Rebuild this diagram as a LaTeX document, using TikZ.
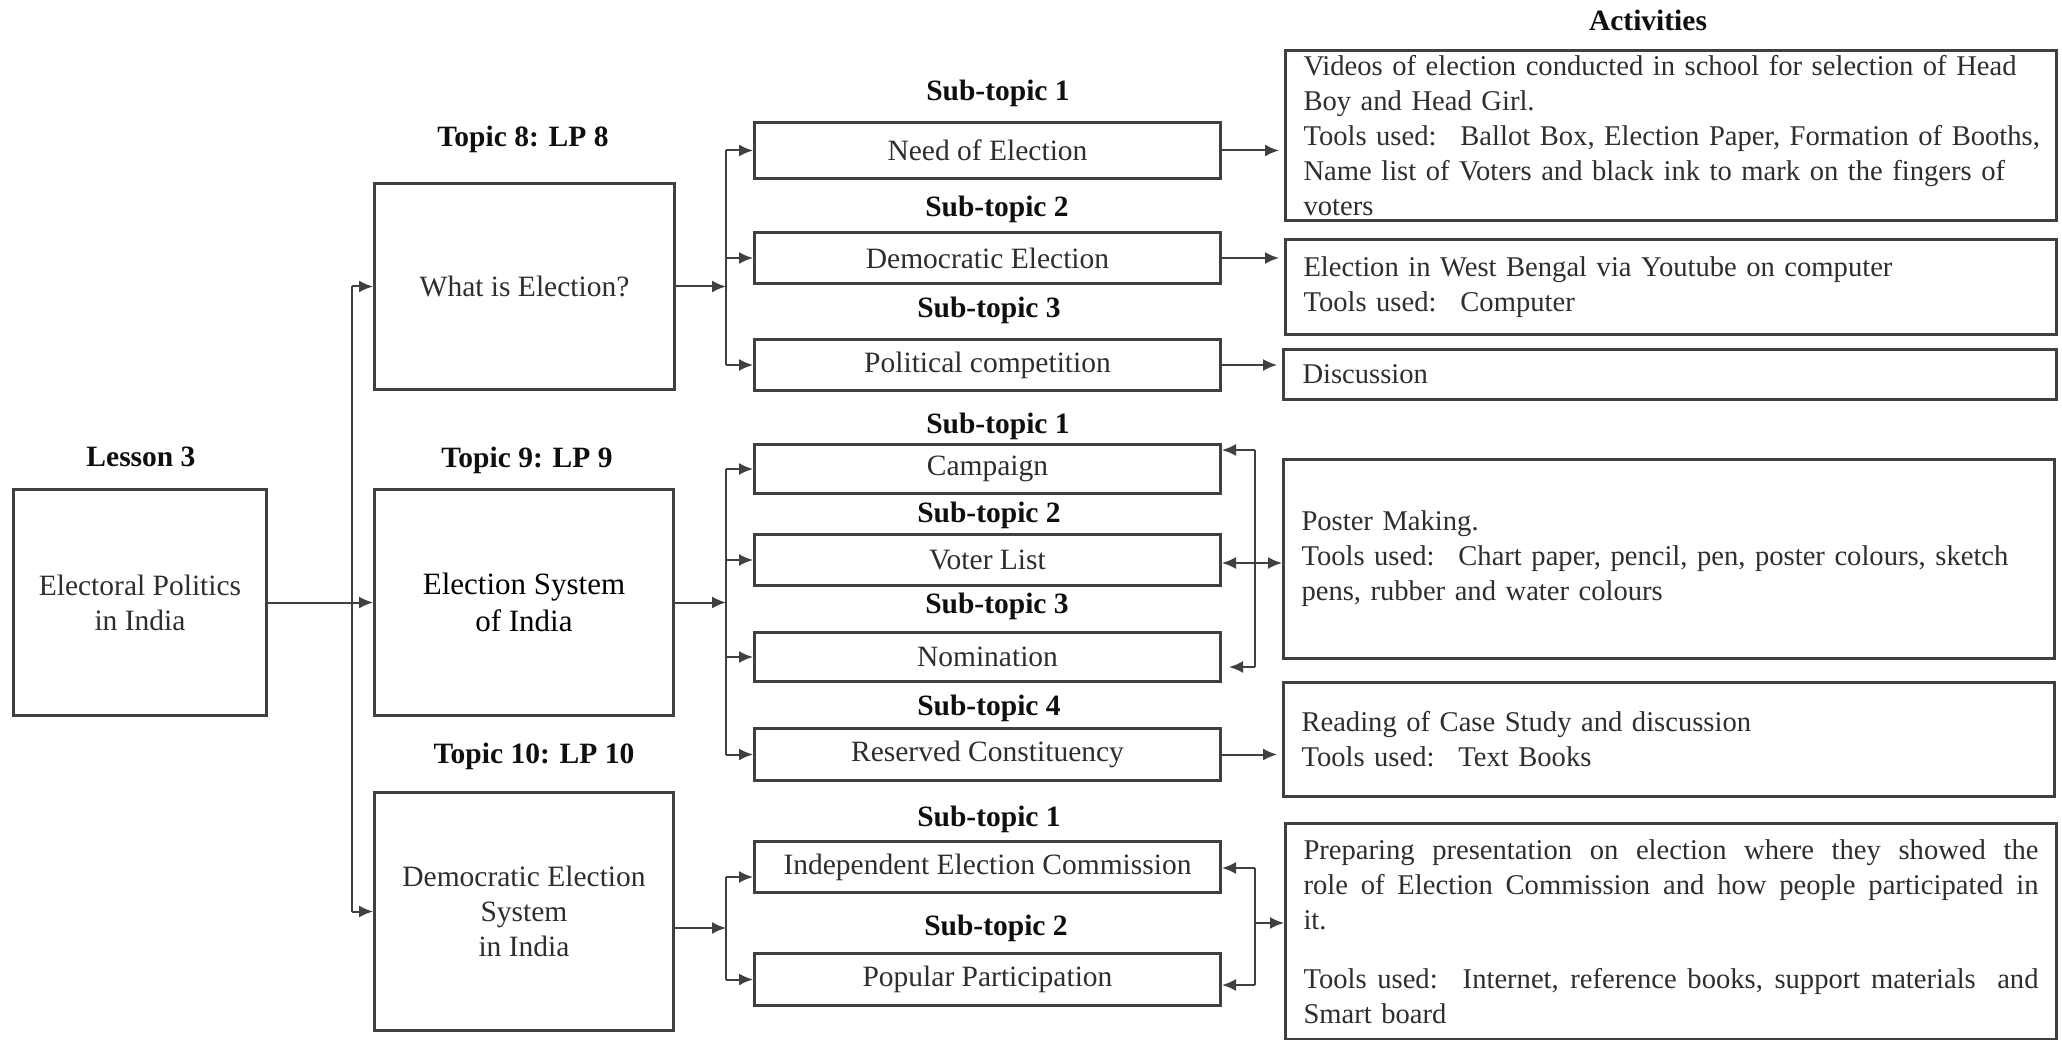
\documentclass[tikz,border=0pt]{standalone}
\usepackage{fontspec}
\setmainfont{Liberation Serif}
\usetikzlibrary{arrows.meta}
\definecolor{linec}{gray}{0.25}
\definecolor{txtc}{gray}{0.18}
\definecolor{lblc}{gray}{0.06}
\newcommand\bodyfont{\fontsize{29.5}{35}\selectfont}
\newcommand\actfont{\fontsize{28.6}{35}\selectfont}
\newcommand\jline[1]{\leavevmode\hbox to 735pt{\spaceskip=0.25em plus 1fil\relax #1}}
\tikzset{
  box/.style={draw=linec, line width=3pt, inner sep=0pt, text=txtc, font=\bodyfont, align=center},
  rect/.style n args={4}{anchor=north west, at={(#1,#2)}, minimum width={(#3)-(#1)}, minimum height={(#4)-(#2)}},
  actbox/.style={box, font=\actfont, text width=735pt, align=left},
  lbl/.style={font=\bodyfont\bfseries, text=lblc, inner sep=0pt},
  conn/.style={draw=linec, line width=2pt},
  arr/.style={conn, -{Latex[length=14pt,width=12pt]}},
  darr/.style={conn, {Latex[length=14pt,width=12pt]}-{Latex[length=14pt,width=12pt]}},
}
\begin{document}
\begin{tikzpicture}[x=1pt,y=-1pt]
\useasboundingbox (0,0) rectangle (2062,1040);
\fill[white] (0,0) rectangle (2062,1040);

% headings
\node[lbl] (hact) at (1648,20) {Activities};
\node[lbl] (hl3) at (141,457) {Lesson 3};
\node[lbl] (ht8) at (523,139) {Topic 8: LP 8};
\node[lbl] (ht9) at (527,460) {Topic 9: LP 9};
\node[lbl] (ht10) at (534,756) {Topic 10: LP 10};
\node[lbl] (s1) at (998,93) {Sub-topic 1};
\node[lbl] (s2) at (997,209) {Sub-topic 2};
\node[lbl] (s3) at (989,310) {Sub-topic 3};
\node[lbl] (s4) at (998,426) {Sub-topic 1};
\node[lbl] (s5) at (989,515) {Sub-topic 2};
\node[lbl] (s6) at (997,606) {Sub-topic 3};
\node[lbl] (s7) at (989,708) {Sub-topic 4};
\node[lbl] (s8) at (989,819) {Sub-topic 1};
\node[lbl] (s9) at (996,928) {Sub-topic 2};

% lesson and topics
\node[box, rect={12}{488}{265}{714}] (L3) {Electoral Politics\\in India};
\node[box, rect={373}{182}{673}{388}] (T8) {What is Election?};
\node[box, rect={373}{488}{672}{714}, text=black, font=\fontsize{31}{37.5}\selectfont] (T9) {Election System\\of India};
\node[box, rect={373}{791}{672}{1029}] (T10) {Democratic Election\\System\\in India};

% sub-topics
\node[box, rect={753}{121}{1219}{177}] (Need) {Need of Election};
\node[box, rect={753}{231}{1219}{282}] (Dem) {Democratic Election};
\node[box, rect={753}{338}{1219}{389}] (Pol) {Political competition};
\node[box, rect={753}{443}{1219}{492}] (Camp) {Campaign};
\node[box, rect={753}{533}{1219}{584}] (Voter) {Voter List};
\node[box, rect={753}{631}{1219}{680}] (Nom) {Nomination};
\node[box, rect={753}{727}{1219}{779}] (Res) {Reserved Constituency};
\node[box, rect={753}{840}{1219}{891}] (Ind) {Independent Election Commission};
\node[box, rect={753}{952}{1219}{1004}] (Pop) {Popular Participation};

% activities
\node[actbox, rect={1284}{49}{2055}{219}] (A1) {\mbox{Videos of election conducted in school for selection of Head}\\
\mbox{Boy and Head Girl.}\\
\mbox{Tools used:~ Ballot Box, Election Paper, Formation of Booths,}\\
\mbox{Name list of Voters and black ink to mark on the fingers of}\\
\mbox{voters}};
\node[actbox, rect={1284}{238}{2055}{333}] (A2) {\mbox{Election in West Bengal via Youtube on computer}\\
\mbox{Tools used:~ Computer}};
\node[actbox, rect={1282}{348}{2055}{398}] (A3) {Discussion};
\node[actbox, rect={1282}{458}{2053}{657}] (A4) {\mbox{Poster Making.}\\
\mbox{Tools used:~ Chart paper, pencil, pen, poster colours, sketch}\\
\mbox{pens, rubber and water colours}};
\node[actbox, rect={1282}{681}{2053}{795}] (A5) {\mbox{Reading of Case Study and discussion}\\
\mbox{Tools used:~ Text Books}};
\node[actbox, rect={1284}{822}{2055}{1038}] (A6) {\jline{Preparing presentation on election where they showed the}\\
\jline{role of Election Commission and how people participated in}\\
\mbox{it.}\\[24pt]
\jline{Tools used:~ Internet, reference books, support materials~ and}\\
\mbox{Smart board}};

% junction coordinates
\coordinate (j1) at (352,0);
\coordinate (j2) at (726,0);
\coordinate (k) at (1255,0);
\coordinate (y10) at (0,928);
\coordinate (yInd) at (0,877);
\coordinate (rCamp) at (0,450);
\coordinate (rVoter) at (0,563);
\coordinate (rNom) at (0,667);
\coordinate (rNomTip) at (1229,667);
\coordinate (rInd) at (0,868);
\coordinate (rPop) at (0,985);
\coordinate (rA6) at (0,923);

% lesson -> topics
\draw[arr] (L3.east) -- (T9.west);
\draw[conn] (j1 |- T8.west) -- (j1 |- T10.west);
\draw[arr] (j1 |- T8.west) -- (T8.west);
\draw[arr] (j1 |- T10.west) -- (T10.west);

% topic 8 -> subtopics
\draw[arr] (T8.east) -- (T8.east -| j2);
\draw[conn] (j2 |- Need.west) -- (j2 |- Pol.west);
\foreach \n in {Need,Dem,Pol} \draw[arr] (j2 |- \n.west) -- (\n.west);

% topic 9 -> subtopics
\draw[arr] (T9.east) -- (T9.east -| j2);
\draw[conn] (j2 |- Camp.west) -- (j2 |- Res.west);
\foreach \n in {Camp,Voter,Nom,Res} \draw[arr] (j2 |- \n.west) -- (\n.west);

% topic 10 -> subtopics
\draw[arr] (T10.east |- y10) -- (j2 |- y10);
\draw[conn] (j2 |- yInd) -- (j2 |- Pop.west);
\draw[arr] (j2 |- yInd) -- (Ind.west |- yInd);
\draw[arr] (j2 |- Pop.west) -- (Pop.west);

% subtopics -> activities
\draw[arr, shorten >=5pt] (Need.east) -- (Need.east -| A1.west);
\draw[arr, shorten >=5pt] (Dem.east) -- (Dem.east -| A2.west);
\draw[arr, shorten >=5pt] (Pol.east) -- (Pol.east -| A3.west);
\draw[arr, shorten >=5pt] (Res.east) -- (Res.east -| A5.west);

% topic 9 bracket
\draw[conn] (k |- rCamp) -- (k |- rNom);
\draw[arr] (k |- rCamp) -- (Camp.east |- rCamp);
\draw[darr] (Voter.east |- rVoter) -- (A4.west |- rVoter);
\draw[arr] (k |- rNom) -- (rNomTip);

% topic 10 bracket
\draw[conn] (k |- rInd) -- (k |- rPop);
\draw[arr] (k |- rInd) -- (Ind.east |- rInd);
\draw[arr] (k |- rPop) -- (Pop.east |- rPop);
\draw[arr] (k |- rA6) -- (A6.west |- rA6);
\end{tikzpicture}
\end{document}
